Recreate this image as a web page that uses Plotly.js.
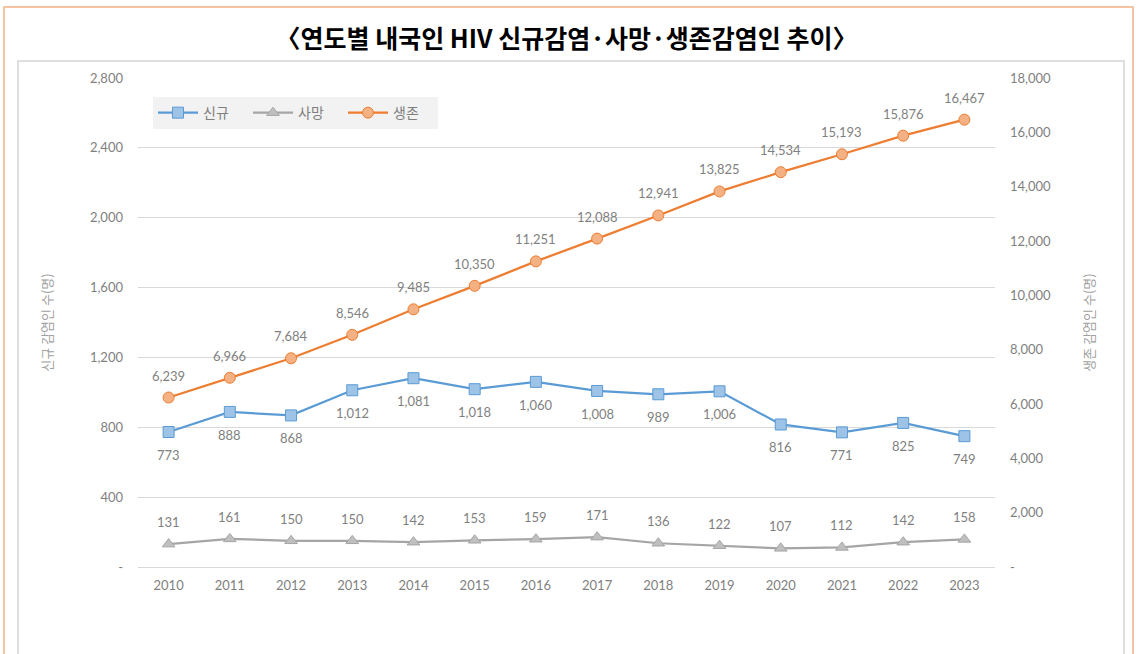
<!DOCTYPE html>
<html>
<head>
<meta charset="utf-8">
<script src="https://cdn.plot.ly/plotly-3.0.1.min.js"></script>
<style>
  html, body { margin: 0; padding: 0; background: #ffffff; }
  #wrap { position: relative; width: 1139px; height: 654px; overflow: hidden; }
  #outer { position: absolute; left: 3px; top: 6px; width: 1131px; height: 660px; border: 2px solid #f5c5a3; box-sizing: border-box; }
  #inner { position: absolute; left: 17px; top: 60px; width: 1108px; height: 620px; border: 2px solid #dedede; box-sizing: border-box; }
  #chart { position: absolute; left: 0; top: 0; width: 1139px; height: 654px; }
</style>
</head>
<body>
<div id="wrap">
  <div id="outer"></div>
  <div id="inner"></div>
  <div id="chart"></div>
</div>
<script>
const years = ["2010","2011","2012","2013","2014","2015","2016","2017","2018","2019","2020","2021","2022","2023"];
const newInfections = [773, 888, 868, 1012, 1081, 1018, 1060, 1008, 989, 1006, 816, 771, 825, 749];
const deaths = [131, 161, 150, 150, 142, 153, 159, 171, 136, 122, 107, 112, 142, 158];
const living = [6239, 6966, 7684, 8546, 9485, 10350, 11251, 12088, 12941, 13825, 14534, 15193, 15876, 16467];

const leftTicks = [0, 400, 800, 1200, 1600, 2000, 2400, 2800];
const leftTickText = ["-", "400", "800", "1,200", "1,600", "2,000", "2,400", "2,800"];
const rightTicks = [0, 2000, 4000, 6000, 8000, 10000, 12000, 14000, 16000, 18000];
const rightTickText = ["-", "2,000", "4,000", "6,000", "8,000", "10,000", "12,000", "14,000", "16,000", "18,000"];

const numFont = "Lato, 'Noto Sans CJK KR', sans-serif";
const gray = "#7f7f7f";

const traces = [
  {
    name: "신규", x: years, y: newInfections, type: "scatter", mode: "lines+markers",
    line: {color: "#5b9bd5", width: 2.25},
    marker: {symbol: "square", size: 11, color: "#9dc3e6", line: {color: "#5b9bd5", width: 1}},
    yaxis: "y", cliponaxis: false
  },
  {
    name: "사망", x: years, y: deaths, type: "scatter", mode: "lines+markers",
    line: {color: "#a5a5a5", width: 2.25},
    marker: {symbol: "triangle-up", size: 11, color: "#bfbfbf", line: {color: "#a5a5a5", width: 1}},
    yaxis: "y", cliponaxis: false
  },
  {
    name: "생존", x: years, y: living, type: "scatter", mode: "lines+markers",
    line: {color: "#ed7d31", width: 2.25},
    marker: {symbol: "circle", size: 11, color: "#f4b183", line: {color: "#ed7d31", width: 1}},
    yaxis: "y2", cliponaxis: false
  }
];

// data labels: x is the category index on the category axis
function labels(values, yref, shift) {
  return values.map((v, i) => ({
    x: i, y: v, xref: "x", yref: yref,
    text: v.toLocaleString("en-US"), showarrow: false,
    yshift: shift, font: {family: numFont, size: 13, color: gray}
  }));
}
const annotations = [].concat(
  labels(newInfections, "y", -23),
  labels(deaths, "y", 22),
  labels(living, "y2", 22)
);

const layout = {
  width: 1139, height: 654,
  margin: {l: 138, r: 144, t: 78, b: 87},
  paper_bgcolor: "rgba(0,0,0,0)",
  plot_bgcolor: "rgba(0,0,0,0)",
  showlegend: true,
  annotations: annotations,
  title: {
    text: "〈연도별 내국인 HIV 신규감염·사망·생존감염인 추이〉",
    font: {family: "'Noto Sans CJK KR', sans-serif", size: 25, color: "#000000", weight: "bold"},
    x: 0.5, xanchor: "center", y: 0.94, yanchor: "middle", xref: "paper"
  },
  xaxis: {
    type: "category", range: [-0.5, 13.5],
    showgrid: false, showline: true, linecolor: "#d9d9d9", linewidth: 1,
    ticks: "", tickfont: {family: numFont, size: 13, color: gray},
    ticklabelstandoff: 6, zeroline: false, fixedrange: true
  },
  yaxis: {
    range: [0, 2800], tickvals: leftTicks, ticktext: leftTickText,
    showgrid: true, gridcolor: "#d9d9d9", gridwidth: 1, zeroline: false, showline: false,
    ticks: "", tickfont: {family: numFont, size: 13, color: gray},
    ticklabelstandoff: 14,
    title: {text: "신규 감염인 수(명)", font: {family: "'Noto Sans CJK KR', sans-serif", size: 13, color: "#a0a0a0"}, standoff: 34}
  },
  yaxis2: {
    range: [0, 18000], tickvals: rightTicks, ticktext: rightTickText,
    overlaying: "y", side: "right",
    showgrid: false, zeroline: false, showline: false,
    ticks: "", tickfont: {family: numFont, size: 13, color: gray},
    ticklabelstandoff: 14,
    title: {text: "생존 감염인 수(명)", font: {family: "'Noto Sans CJK KR', sans-serif", size: 13, color: "#a0a0a0"}, standoff: 34}
  },
  legend: {
    orientation: "h", x: 0.0175, y: 0.961, xanchor: "left", yanchor: "top",
    bgcolor: "#f2f2f2", borderwidth: 0,
    font: {family: "'Noto Sans CJK KR', sans-serif", size: 14, color: gray},
    entrywidth: 40, itemwidth: 40
  }
};

Plotly.newPlot("chart", traces, layout, {displayModeBar: false, staticPlot: true});
</script>
</body>
</html>
